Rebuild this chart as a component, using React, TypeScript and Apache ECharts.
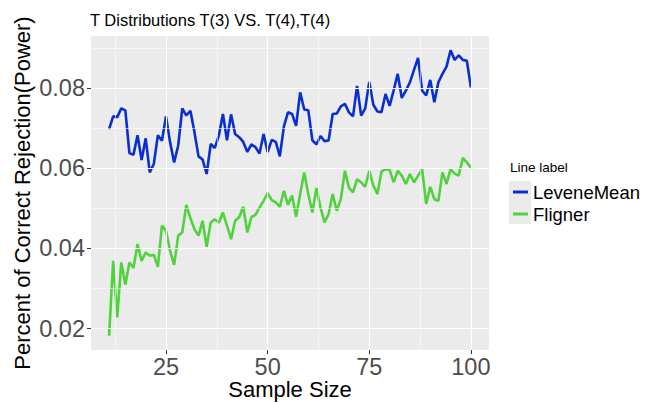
import React, { useEffect, useRef } from "react";
import * as echarts from "echarts";

const TITLE = "T Distributions T(3) VS. T(4),T(4)";
const SERIES_NAMES = ["LeveneMean", "Fligner"];

const sampleSizes = [
  11, 12, 13, 14, 15, 16, 17, 18, 19, 20,
  21, 22, 23, 24, 25, 26, 27, 28, 29, 30,
  31, 32, 33, 34, 35, 36, 37, 38, 39, 40,
  41, 42, 43, 44, 45, 46, 47, 48, 49, 50,
  51, 52, 53, 54, 55, 56, 57, 58, 59, 60,
  61, 62, 63, 64, 65, 66, 67, 68, 69, 70,
  71, 72, 73, 74, 75, 76, 77, 78, 79, 80,
  81, 82, 83, 84, 85, 86, 87, 88, 89, 90,
  91, 92, 93, 94, 95, 96, 97, 98, 99, 100,
];

const leveneMean = [
  0.0698, 0.073, 0.0728, 0.075, 0.0745, 0.0638, 0.0634, 0.0683, 0.0621, 0.0675,
  0.059, 0.0611, 0.0683, 0.0669, 0.073, 0.0665, 0.0615, 0.0657, 0.075, 0.0732,
  0.0744, 0.069, 0.063, 0.0622, 0.0586, 0.0661, 0.0651, 0.0682, 0.0736, 0.067,
  0.0735, 0.0686, 0.0678, 0.0666, 0.0641, 0.066, 0.0653, 0.0637, 0.0686, 0.0641,
  0.0671, 0.0666, 0.063, 0.0705, 0.074, 0.0736, 0.0706, 0.079, 0.0747, 0.0745,
  0.067, 0.066, 0.0681, 0.0668, 0.067, 0.0736, 0.0737, 0.0755, 0.0761, 0.074,
  0.073, 0.0806, 0.0732, 0.075, 0.0816, 0.0759, 0.0742, 0.074, 0.0786, 0.0756,
  0.0795, 0.0836, 0.0776, 0.0794, 0.0815, 0.0846, 0.0876, 0.0794, 0.0782, 0.0821,
  0.0765, 0.0815, 0.0836, 0.0854, 0.0895, 0.0871, 0.0882, 0.0871, 0.0869, 0.0802,
];

const fligner = [
  0.0182, 0.0369, 0.0228, 0.0365, 0.0309, 0.0365, 0.0351, 0.0411, 0.0369, 0.039,
  0.0382, 0.0384, 0.0354, 0.0457, 0.0444, 0.0394, 0.0359, 0.0432, 0.044, 0.0509,
  0.0476, 0.0448, 0.0432, 0.0469, 0.0404, 0.0465, 0.0473, 0.0465, 0.049, 0.0457,
  0.0423, 0.0469, 0.0478, 0.0504, 0.044, 0.0478, 0.0484, 0.0502, 0.0519, 0.0538,
  0.0521, 0.0515, 0.0504, 0.0544, 0.0509, 0.0532, 0.0479, 0.0536, 0.059, 0.0536,
  0.049, 0.0551, 0.0502, 0.0465, 0.0486, 0.0536, 0.0494, 0.0523, 0.0594, 0.0552,
  0.054, 0.0573, 0.0565, 0.0554, 0.0594, 0.0557, 0.0536, 0.0592, 0.0598, 0.0596,
  0.0565, 0.0594, 0.0582, 0.0561, 0.0586, 0.0565, 0.0582, 0.0598, 0.0511, 0.0554,
  0.0523, 0.0519, 0.059, 0.0561, 0.0598, 0.0587, 0.0582, 0.0626, 0.0615, 0.0602,
];

const X_TICKS = [25, 50, 75, 100];
const X_MINOR = [12.5, 37.5, 62.5, 87.5];
const Y_TICKS = [0.02, 0.04, 0.06, 0.08];
const Y_MINOR = [0.03, 0.05, 0.07, 0.09];

const COLORS = ["#0a2ed0", "#4fd23c"];
const FONT = "'Liberation Sans', Arial, Helvetica, sans-serif";

export default function App() {
  const ref = useRef<HTMLDivElement>(null);

  useEffect(() => {
    if (!ref.current) return;
    const chart = echarts.init(ref.current, null, { renderer: "svg" });

    const xs = sampleSizes;
    const xRange = Math.max(...xs) - Math.min(...xs);
    const xMin = Math.min(...xs) - 0.05 * xRange;
    const xMax = Math.max(...xs) + 0.05 * xRange;
    const allY = [...leveneMean, ...fligner];
    const yLo = Math.min(...allY);
    const yHi = Math.max(...allY);
    const yR = yHi - yLo;
    const yMin = yLo - 0.05 * yR;
    const yMax = yHi + 0.05 * yR;

    const major = { color: "#ffffff", width: 1.1, type: "solid" as const };
    const minor = { color: "#ffffff", width: 0.55, type: "solid" as const };

    const gridLines = [
      ...X_MINOR.map((v) => ({ xAxis: v, lineStyle: minor })),
      ...Y_MINOR.map((v) => ({ yAxis: v, lineStyle: minor })),
      ...X_TICKS.map((v) => ({ xAxis: v, lineStyle: major })),
      ...Y_TICKS.map((v) => ({ yAxis: v, lineStyle: major })),
    ];

    const option: any = {
      animation: false,
      backgroundColor: "#ffffff",
      textStyle: { fontFamily: FONT },
      title: [
        {
          text: TITLE,
          left: 90,
          top: 11,
          padding: 0,
          textStyle: { fontSize: 16.5, fontWeight: "normal", color: "#000", fontFamily: FONT },
        },
        {
          text: "Line label",
          left: 510,
          top: 160,
          padding: 0,
          textStyle: { fontSize: 13.5, fontWeight: "normal", color: "#000", fontFamily: FONT },
        },
      ],
      grid: {
        left: 91,
        right: 157,
        top: 36,
        bottom: 53,
        containLabel: false,
        outerBoundsMode: "none",
        show: true,
        backgroundColor: "#ebebeb",
        borderWidth: 0,
      },
      legend: {
        orient: "vertical",
        left: 513,
        top: 181,
        padding: 0,
        itemGap: 0,
        itemWidth: 15,
        itemHeight: 3,
        icon: "rect",
        selectedMode: false,
        data: SERIES_NAMES,
        textStyle: { fontSize: 18.5, color: "#000", lineHeight: 22, fontFamily: FONT },
      },
      graphic: [
        {
          type: "rect",
          left: 509,
          top: 181,
          z: -1,
          shape: { width: 22, height: 43 },
          style: { fill: "#ebebeb" },
        },
      ],
      xAxis: {
        type: "value",
        min: xMin,
        max: xMax,
        axisLine: { show: false },
        axisTick: { show: true, customValues: X_TICKS, length: 4, lineStyle: { color: "#333" } },
        axisLabel: {
          customValues: X_TICKS,
          fontSize: 23.5,
          lineHeight: 22,
          color: "#4d4d4d",
          margin: 6,
          fontFamily: FONT,
        },
        splitLine: { show: false },
        name: "Sample Size",
        nameLocation: "middle",
        nameGap: 28,
        nameMoveOverlap: false,
        nameTextStyle: { fontSize: 22, lineHeight: 22, color: "#000", fontFamily: FONT },
      },
      yAxis: {
        type: "value",
        min: yMin,
        max: yMax,
        axisLine: { show: false },
        axisTick: { show: true, customValues: Y_TICKS, length: 4, lineStyle: { color: "#333" } },
        axisLabel: {
          customValues: Y_TICKS,
          fontSize: 23.5,
          color: "#4d4d4d",
          margin: 6,
          fontFamily: FONT,
          formatter: (v: number) => v.toFixed(2),
        },
        splitLine: { show: false },
        name: "Percent of Correct Rejection(Power)",
        nameLocation: "middle",
        nameGap: 57,
        nameMoveOverlap: false,
        nameTextStyle: { fontSize: 22, lineHeight: 24, color: "#000", fontFamily: FONT },
      },
      series: [
        {
          type: "line",
          data: [],
          z: 1,
          silent: true,
          markLine: {
            silent: true,
            symbol: ["none", "none"],
            label: { show: false },
            lineStyle: { type: "solid" },
            data: gridLines,
          },
        },
        {
          name: SERIES_NAMES[0],
          type: "line",
          z: 3,
          showSymbol: false,
          data: xs.map((x, i) => [x, leveneMean[i]]),
          lineStyle: { width: 2.6, color: COLORS[0] },
          itemStyle: { color: COLORS[0] },
        },
        {
          name: SERIES_NAMES[1],
          type: "line",
          z: 3,
          showSymbol: false,
          data: xs.map((x, i) => [x, fligner[i]]),
          lineStyle: { width: 2.6, color: COLORS[1] },
          itemStyle: { color: COLORS[1] },
        },
      ],
    };

    chart.setOption(option);
    return () => chart.dispose();
  }, []);

  return <div ref={ref} style={{ width: 646, height: 403, position: "absolute", left: 0, top: 0 }} />;
}
